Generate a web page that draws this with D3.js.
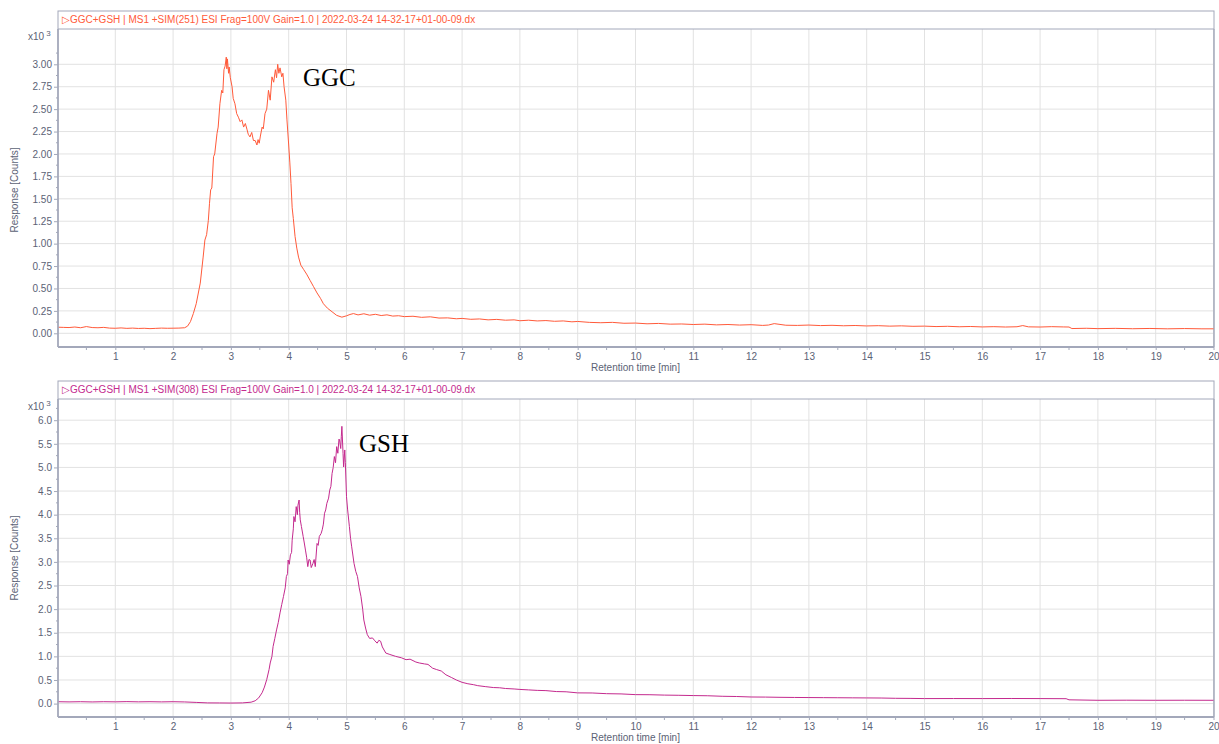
<!DOCTYPE html>
<html>
<head>
<meta charset="utf-8">
<script src="https://cdn.jsdelivr.net/npm/d3@7"></script>
<style>
  html, body { margin: 0; padding: 0; background: #ffffff; }
  svg { display: block; }
</style>
</head>
<body>
<script>
// ---------------- DATA ----------------
const xTicks = [1,2,3,4,5,6,7,8,9,10,11,12,13,14,15,16,17,18,19,20];
const topYTicks = [0, 0.25, 0.5, 0.75, 1.0, 1.25, 1.5, 1.75, 2.0, 2.25, 2.5, 2.75, 3.0];
const botYTicks = [0, 0.5, 1.0, 1.5, 2.0, 2.5, 3.0, 3.5, 4.0, 4.5, 5.0, 5.5, 6.0];

const topTitle = "\u25B7GGC+GSH | MS1 +SIM(251) ESI Frag=100V Gain=1.0 | 2022-03-24 14-32-17+01-00-09.dx";
const botTitle = "\u25B7GGC+GSH | MS1 +SIM(308) ESI Frag=100V Gain=1.0 | 2022-03-24 14-32-17+01-00-09.dx";
const topLabel = "GGC";
const botLabel = "GSH";
const xTitle = "Retention time [min]";
const yTitle = "Response [Counts]";

// GGC trace (x10^3 counts) vs retention time (min)
const ggcTime = [0.0,0.1,0.2,0.3,0.4,0.5,0.6,0.7,0.8,0.9,1.0,1.1,1.2,1.3,1.4,1.5,1.6,1.7,1.8,1.9,2.0,2.1,2.2,2.25,2.3,2.35,2.4,2.47,2.52,2.55,2.58,2.61,2.63,2.65,2.67,2.70,2.72,2.76,2.78,2.81,2.84,2.86,2.88,2.90,2.92,2.93,2.94,2.96,2.97,2.99,3.02,3.04,3.07,3.10,3.13,3.16,3.19,3.22,3.25,3.28,3.30,3.33,3.36,3.39,3.42,3.45,3.47,3.49,3.51,3.54,3.56,3.59,3.62,3.65,3.68,3.71,3.74,3.77,3.79,3.81,3.83,3.85,3.88,3.90,3.92,3.95,3.97,4.00,4.02,4.04,4.06,4.08,4.11,4.14,4.17,4.21,4.26,4.31,4.37,4.43,4.49,4.55,4.60,4.67,4.75,4.83,4.92,5.0,5.06,5.12,5.2,5.3,5.4,5.5,5.6,5.7,5.8,5.9,6.0,6.15,6.3,6.45,6.6,6.75,6.9,7.0,7.15,7.3,7.45,7.6,7.75,7.9,8.0,8.15,8.3,8.45,8.6,8.75,8.9,9.0,9.2,9.4,9.6,9.8,10.0,10.2,10.4,10.6,10.8,11.0,11.2,11.4,11.6,11.8,12.0,12.2,12.3,12.4,12.6,12.8,13.0,13.2,13.4,13.6,13.8,14.0,14.2,14.4,14.6,14.8,15.0,15.2,15.4,15.6,15.8,16.0,16.2,16.4,16.6,16.7,16.8,17.0,17.2,17.4,17.5,17.55,17.8,18.0,18.3,18.6,18.9,19.2,19.5,19.8,20.0];
const ggcValue = [0.068,0.066,0.064,0.070,0.062,0.075,0.064,0.062,0.066,0.058,0.056,0.060,0.055,0.058,0.054,0.056,0.052,0.055,0.058,0.056,0.057,0.058,0.062,0.080,0.13,0.22,0.33,0.56,0.85,1.04,1.10,1.26,1.45,1.60,1.62,1.97,2.00,2.23,2.30,2.56,2.71,2.68,2.94,2.98,3.08,2.95,3.06,2.90,2.97,2.85,2.75,2.62,2.56,2.45,2.41,2.36,2.38,2.30,2.34,2.27,2.22,2.19,2.24,2.15,2.15,2.10,2.16,2.12,2.20,2.30,2.28,2.45,2.50,2.71,2.60,2.86,2.80,2.94,2.85,3.00,2.90,2.96,2.86,2.90,2.75,2.60,2.38,2.10,1.90,1.67,1.40,1.28,1.08,0.95,0.85,0.76,0.71,0.66,0.59,0.52,0.45,0.39,0.33,0.28,0.24,0.20,0.18,0.195,0.21,0.22,0.205,0.218,0.202,0.212,0.198,0.206,0.192,0.196,0.186,0.190,0.178,0.184,0.170,0.172,0.162,0.166,0.156,0.160,0.150,0.155,0.146,0.150,0.140,0.146,0.138,0.142,0.134,0.138,0.128,0.132,0.122,0.118,0.122,0.112,0.114,0.106,0.110,0.102,0.104,0.098,0.102,0.094,0.098,0.092,0.096,0.088,0.092,0.108,0.090,0.088,0.092,0.086,0.089,0.084,0.087,0.082,0.085,0.080,0.083,0.078,0.080,0.075,0.078,0.073,0.076,0.071,0.074,0.070,0.073,0.086,0.072,0.070,0.074,0.071,0.070,0.053,0.056,0.052,0.055,0.051,0.054,0.050,0.053,0.050,0.050];

// GSH trace (x10^3 counts) vs retention time (min)
const gshTime = [0.0,0.2,0.4,0.6,0.8,1.0,1.2,1.4,1.6,1.8,2.0,2.2,2.4,2.6,2.8,3.0,3.2,3.35,3.42,3.48,3.54,3.58,3.62,3.66,3.68,3.71,3.73,3.76,3.79,3.82,3.85,3.88,3.91,3.94,3.96,3.98,3.99,4.01,4.03,4.05,4.06,4.08,4.09,4.11,4.13,4.15,4.16,4.18,4.19,4.20,4.22,4.25,4.27,4.29,4.31,4.33,4.35,4.37,4.39,4.42,4.44,4.46,4.49,4.51,4.53,4.56,4.58,4.60,4.62,4.64,4.66,4.69,4.71,4.73,4.75,4.77,4.79,4.81,4.83,4.85,4.87,4.88,4.90,4.91,4.92,4.94,4.95,4.97,4.98,5.00,5.02,5.05,5.07,5.09,5.13,5.16,5.19,5.22,5.25,5.28,5.30,5.33,5.36,5.40,5.45,5.49,5.53,5.56,5.59,5.62,5.68,5.75,5.85,5.95,6.03,6.10,6.20,6.26,6.35,6.41,6.49,6.56,6.64,6.72,6.82,6.90,7.0,7.1,7.2,7.27,7.4,7.54,7.65,7.75,7.9,8.0,8.15,8.3,8.45,8.63,8.8,9.0,9.25,9.5,9.75,10.0,10.25,10.5,10.75,11.0,11.25,11.5,11.75,12.0,12.25,12.5,12.75,13.0,13.25,13.5,13.75,14.0,14.25,14.5,14.75,15.0,15.5,16.0,16.5,17.0,17.45,17.5,18.0,18.5,19.0,19.5,20.0];
const gshValue = [0.040,0.036,0.040,0.035,0.040,0.037,0.042,0.037,0.040,0.036,0.040,0.035,0.025,0.015,0.014,0.012,0.015,0.030,0.060,0.12,0.23,0.35,0.51,0.72,0.86,1.00,1.21,1.38,1.56,1.72,1.92,2.10,2.27,2.45,2.69,2.75,3.04,2.95,3.15,3.20,3.46,3.70,3.96,3.85,4.17,4.00,4.20,4.31,4.05,3.89,3.75,3.54,3.40,3.25,3.10,2.90,3.05,3.04,2.88,2.97,3.05,2.90,3.39,3.35,3.54,3.60,3.68,3.80,4.03,4.10,4.24,4.35,4.52,4.60,4.87,5.00,5.23,5.10,5.44,5.30,5.60,5.58,5.40,5.65,5.87,5.30,5.01,5.37,5.10,4.38,4.10,3.75,3.50,3.32,2.97,2.80,2.69,2.45,2.27,2.00,1.77,1.60,1.46,1.38,1.39,1.33,1.28,1.34,1.32,1.20,1.07,1.04,1.00,0.97,0.93,0.94,0.88,0.86,0.84,0.83,0.75,0.72,0.69,0.61,0.55,0.50,0.45,0.42,0.40,0.38,0.36,0.34,0.335,0.32,0.31,0.30,0.29,0.28,0.275,0.255,0.25,0.227,0.225,0.21,0.205,0.19,0.188,0.18,0.176,0.17,0.166,0.155,0.15,0.14,0.138,0.133,0.13,0.128,0.126,0.124,0.122,0.12,0.118,0.112,0.11,0.106,0.107,0.106,0.108,0.106,0.104,0.080,0.070,0.072,0.070,0.071,0.070];

// ---------------- DRAW ----------------
const W = 1219, H = 744;
const svg = d3.select("body").append("svg").attr("width", W).attr("height", H);

const FONT = "'Liberation Sans', Arial, sans-serif";
const AXIS_COLOR = "#a3a8ba";
const GRID_COLOR = "#e2e2e2";
const TEXT_COLOR = "#5b6275";

const left = 58, right = 1214;
const x = d3.scaleLinear().domain([0, 20]).range([57.5, 1213.5]);

function panel(cfg) {
  const g = svg.append("g");
  const y = d3.scaleLinear().domain([0, cfg.yMax]).range([cfg.y0, cfg.yMaxPx]);
  const pTop = cfg.headerBottom, pBot = cfg.axisY;

  const clipId = "clip" + cfg.id;
  svg.append("clipPath").attr("id", clipId)
    .append("rect").attr("x", left).attr("y", pTop).attr("width", right - left).attr("height", pBot - pTop);

  g.append("g").selectAll("line").data(xTicks).join("line")
    .attr("x1", d => x(d)).attr("x2", d => x(d))
    .attr("y1", pTop).attr("y2", pBot)
    .attr("stroke", GRID_COLOR).attr("stroke-width", 1);
  g.append("g").selectAll("line").data(cfg.yTicks).join("line")
    .attr("x1", left).attr("x2", right)
    .attr("y1", d => y(d)).attr("y2", d => y(d))
    .attr("stroke", GRID_COLOR).attr("stroke-width", 1);

  g.append("rect").attr("x", left).attr("y", cfg.headerTop)
    .attr("width", right - left).attr("height", cfg.headerBottom - cfg.headerTop)
    .attr("fill", "#ffffff").attr("stroke", AXIS_COLOR).attr("stroke-width", 1);
  g.append("text").attr("x", 62).attr("y", (cfg.headerTop + cfg.headerBottom) / 2 + 0.5)
    .attr("dominant-baseline", "middle")
    .attr("font-family", FONT).attr("font-size", 10)
    .attr("fill", cfg.color).text(cfg.title);

  g.append("line").attr("x1", right).attr("x2", right).attr("y1", pTop).attr("y2", pBot)
    .attr("stroke", AXIS_COLOR).attr("stroke-width", 1.5);

  const line = d3.line().x(d => x(d[0])).y(d => y(d[1]));
  const pts = cfg.times.map((t, i) => [t, cfg.values[i]]);
  g.append("path").datum(pts)
    .attr("clip-path", "url(#" + clipId + ")")
    .attr("d", line).attr("fill", "none")
    .attr("stroke", cfg.color).attr("stroke-width", 1).attr("stroke-linejoin", "round");

  const yAxis = d3.axisLeft(y).tickValues(cfg.yTicks).tickFormat(cfg.fmt).tickSize(4).tickPadding(2);
  const ya = g.append("g").attr("transform", `translate(${left},0)`).call(yAxis);
  ya.select(".domain").remove();
  ya.selectAll(".tick line").attr("stroke", AXIS_COLOR);
  ya.selectAll(".tick text").attr("font-family", FONT).attr("font-size", 10).attr("fill", TEXT_COLOR);
  const step = cfg.yTicks[1] - cfg.yTicks[0];
  const yMinor = cfg.yTicks.slice(0, -1).map(d => d + step / 2).concat([cfg.yTicks[cfg.yTicks.length - 1] + step / 2]);
  g.append("g").selectAll("line").data(yMinor.filter(v => y(v) > pTop)).join("line")
    .attr("x1", left - 2).attr("x2", left).attr("y1", d => y(d)).attr("y2", d => y(d))
    .attr("stroke", AXIS_COLOR);
  g.append("line").attr("x1", left).attr("x2", left).attr("y1", pTop).attr("y2", pBot)
    .attr("stroke", AXIS_COLOR).attr("stroke-width", 1.8);

  const xAxis = d3.axisBottom(x).tickValues(xTicks).tickFormat(d3.format("d")).tickSize(3).tickPadding(3);
  const xa = g.append("g").attr("transform", `translate(0,${pBot})`).call(xAxis);
  xa.select(".domain").remove();
  xa.selectAll(".tick line").attr("stroke", AXIS_COLOR);
  xa.selectAll(".tick text").attr("font-family", FONT).attr("font-size", 10).attr("fill", TEXT_COLOR);
  const xMinor = d3.range(0.5, 20, 1);
  g.append("g").selectAll("line").data(xMinor).join("line")
    .attr("x1", d => x(d)).attr("x2", d => x(d)).attr("y1", pBot).attr("y2", pBot + 3)
    .attr("stroke", AXIS_COLOR);
  g.append("line").attr("x1", left).attr("x2", right).attr("y1", pBot).attr("y2", pBot)
    .attr("stroke", AXIS_COLOR).attr("stroke-width", 1.8);

  g.append("text").attr("x", x(10)).attr("y", pBot + 21)
    .attr("text-anchor", "middle").attr("dominant-baseline", "middle")
    .attr("font-family", FONT).attr("font-size", 10).attr("fill", TEXT_COLOR).text(xTitle);
  g.append("text").attr("transform", `translate(15,${cfg.yTitleY}) rotate(-90)`)
    .attr("text-anchor", "middle").attr("dominant-baseline", "middle")
    .attr("font-family", FONT).attr("font-size", 10).attr("fill", TEXT_COLOR).text(yTitle);

  const ex = g.append("text").attr("x", 28).attr("y", cfg.expY)
    .attr("dominant-baseline", "middle")
    .attr("font-family", FONT).attr("font-size", 10).attr("fill", TEXT_COLOR);
  ex.append("tspan").text("x10");
  ex.append("tspan").attr("dx", 2).attr("dy", -3).attr("font-size", 8).text("3");

  g.append("text").attr("x", cfg.labelX).attr("y", cfg.labelY)
    .attr("font-family", "'Liberation Serif', 'Times New Roman', serif")
    .attr("font-size", 25).attr("fill", "#000000").text(cfg.label);
}

panel({
  id: "top", color: "#ff5a3a", title: topTitle, label: topLabel,
  times: ggcTime, values: ggcValue,
  yTicks: topYTicks, fmt: d3.format(".2f"), yMax: 3, y0: 333.3, yMaxPx: 64.3,
  headerTop: 11, headerBottom: 29, axisY: 347,
  yTitleY: 190, expY: 37, labelX: 303, labelY: 85.5
});

panel({
  id: "bot", color: "#c42a8e", title: botTitle, label: botLabel,
  times: gshTime, values: gshValue,
  yTicks: botYTicks, fmt: d3.format(".1f"), yMax: 6, y0: 703.6, yMaxPx: 420.2,
  headerTop: 381, headerBottom: 399, axisY: 717,
  yTitleY: 558, expY: 407, labelX: 359, labelY: 451.5
});
</script>
</body>
</html>
